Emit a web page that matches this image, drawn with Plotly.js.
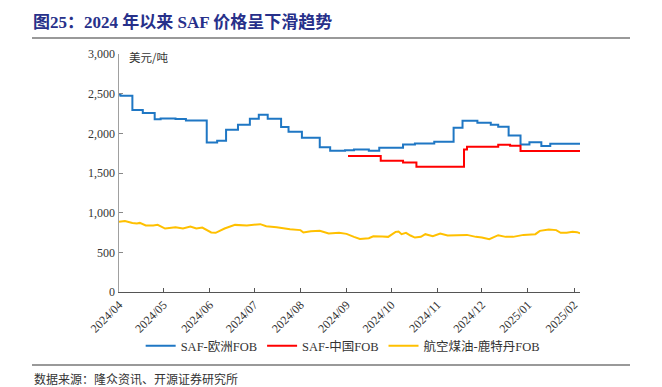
<!DOCTYPE html>
<html>
<head>
<meta charset="utf-8">
<script src="https://cdn.plot.ly/plotly-3.0.1.min.js"></script>
<style>
html,body{margin:0;padding:0;background:#fff;}
#chart{width:662px;height:387px;}
</style>
</head>
<body>
<div id="chart"></div>
<script>
// SAF-欧洲FOB (step change points)
const euDates = ['2024-04-01','2024-04-02','2024-04-10','2024-04-17','2024-04-25','2024-04-29','2024-05-09','2024-05-16','2024-05-30','2024-06-06','2024-06-12','2024-06-20','2024-06-28','2024-07-04','2024-07-10','2024-07-19','2024-07-24','2024-08-02','2024-08-14','2024-08-21','2024-08-31','2024-09-06','2024-09-16','2024-09-23','2024-10-09','2024-10-17','2024-10-30','2024-11-12','2024-11-18','2024-11-28','2024-12-07','2024-12-12','2024-12-19','2024-12-27','2025-01-02','2025-01-10','2025-01-16','2025-02-05'];
const euValues = [2491,2474,2293,2255,2176,2188,2180,2163,1885,1906,2044,2108,2183,2234,2183,2079,2019,1944,1826,1779,1788,1797,1779,1817,1860,1873,1893,2070,2158,2133,2108,2082,1974,1860,1889,1839,1868,1868];

// SAF-中国FOB (step change points)
const cnDates = ['2024-09-02','2024-09-24','2024-10-09','2024-10-18','2024-11-19','2024-11-21','2024-12-12','2024-12-20','2024-12-27','2025-02-05'];
const cnValues = [1713,1654,1633,1578,1797,1830,1855,1843,1776,1776];

// 航空煤油-鹿特丹FOB
const jetDates = ['2024-04-01','2024-04-05','2024-04-10','2024-04-13','2024-04-15','2024-04-19','2024-04-24','2024-04-27','2024-05-02','2024-05-09','2024-05-14','2024-05-19','2024-05-23','2024-05-27','2024-06-02','2024-06-05','2024-06-11','2024-06-18','2024-06-26','2024-07-05','2024-07-09','2024-07-16','2024-07-25','2024-08-01','2024-08-03','2024-08-08','2024-08-14','2024-08-20','2024-08-27','2024-09-01','2024-09-06','2024-09-10','2024-09-16','2024-09-19','2024-09-25','2024-09-29','2024-10-04','2024-10-06','2024-10-08','2024-10-11','2024-10-14','2024-10-17','2024-10-21','2024-10-24','2024-10-29','2024-11-03','2024-11-08','2024-11-14','2024-11-21','2024-11-27','2024-12-01','2024-12-06','2024-12-12','2024-12-17','2024-12-22','2024-12-29','2025-01-06','2025-01-09','2025-01-15','2025-01-20','2025-01-23','2025-01-27','2025-01-31','2025-02-03','2025-02-05'];
const jetValues = [884,896,871,863,871,838,838,846,800,817,800,826,800,812,750,746,800,846,838,855,829,817,791,780,750,767,771,737,746,733,695,669,678,703,699,695,758,762,729,746,712,686,695,729,703,737,712,712,720,695,686,665,716,695,695,720,729,771,788,780,746,746,758,754,741];

const tickVals = ['2024-04-01','2024-05-01','2024-06-01','2024-07-01','2024-08-01','2024-09-01','2024-10-01','2024-11-01','2024-12-01','2025-01-01','2025-02-01'];
const tickText = ['2024/04','2024/05','2024/06','2024/07','2024/08','2024/09','2024/10','2024/11','2024/12','2025/01','2025/02'];
const yTicks = [0,500,1000,1500,2000,2500,3000];
const yTickText = ['0','500','1,000','1,500','2,000','2,500','3,000'];

const serif = '"Liberation Serif", "Times New Roman", "Noto Sans CJK SC", serif';

const traces = [
  {x: euDates, y: euValues, type:'scatter', mode:'lines', name:'SAF-欧洲FOB', line:{color:'#1f77c4', width:2, shape:'hv'}},
  {x: cnDates, y: cnValues, type:'scatter', mode:'lines', name:'SAF-中国FOB', line:{color:'#ff0000', width:2, shape:'hv'}},
  {x: jetDates, y: jetValues, type:'scatter', mode:'lines', name:'航空煤油-鹿特丹FOB', line:{color:'#ffc000', width:2}}
];

const layout = {
  width:662, height:387,
  margin:{l:119, r:82, t:54, b:95},
  paper_bgcolor:'#fff', plot_bgcolor:'#fff',
  showlegend:true,
  font:{family:serif, size:12, color:'#333'},
  xaxis:{
    type:'date', range:['2024-04-01','2025-02-05'],
    tickmode:'array', tickvals:tickVals, ticktext:tickText, tickangle:-45,
    ticks:'inside', ticklen:4, tickcolor:'#555',
    showline:true, linecolor:'#555', linewidth:1, showgrid:false, zeroline:false,
    tickfont:{family:serif, size:12, color:'#333'}
  },
  yaxis:{
    range:[0,3000], tickmode:'array', tickvals:yTicks, ticktext:yTickText,
    ticks:'inside', ticklen:4, tickcolor:'#888',
    showline:true, linecolor:'#a0a0a0', linewidth:1.5, showgrid:false, zeroline:false,
    tickfont:{family:serif, size:12, color:'#333'}
  },
  legend:{orientation:'h', x:0.047, xanchor:'left', y:-0.227, yanchor:'middle',
    font:{family:serif, size:12.5, color:'#333'}, bgcolor:'rgba(0,0,0,0)'},
  title:{text:'<b>图25：2024 年以来 SAF 价格呈下滑趋势</b>', x:33/662, xanchor:'left', y:1-22/387, yanchor:'middle',
    font:{family:'"Liberation Serif", "Noto Sans CJK SC", serif', size:17, color:'#27308a'}},
  annotations:[
    {text:'美元/吨', xref:'paper', yref:'paper', x:(127-119)/461, y:(292-57)/238, xanchor:'left', yanchor:'middle', showarrow:false,
     font:{family:'"Noto Sans CJK SC", serif', size:11.5, color:'#333'}},
    {text:'数据来源：隆众资讯、开源证券研究所', xref:'paper', yref:'paper', x:(32-119)/461, y:(292-378)/238, xanchor:'left', yanchor:'middle', showarrow:false,
     font:{family:'"Noto Sans CJK SC", serif', size:12, color:'#333'}}
  ],
  shapes:[
    {type:'line', xref:'paper', yref:'paper', x0:(32-119)/461, x1:(630-119)/461, y0:(292-38)/238, y1:(292-38)/238, line:{color:'#999', width:2}},
    {type:'line', xref:'paper', yref:'paper', x0:(32-119)/461, x1:(630-119)/461, y0:(292-365)/238, y1:(292-365)/238, line:{color:'#999', width:2}}
  ]
};

Plotly.newPlot('chart', traces, layout, {displayModeBar:false, staticPlot:true});
</script>
</body>
</html>
